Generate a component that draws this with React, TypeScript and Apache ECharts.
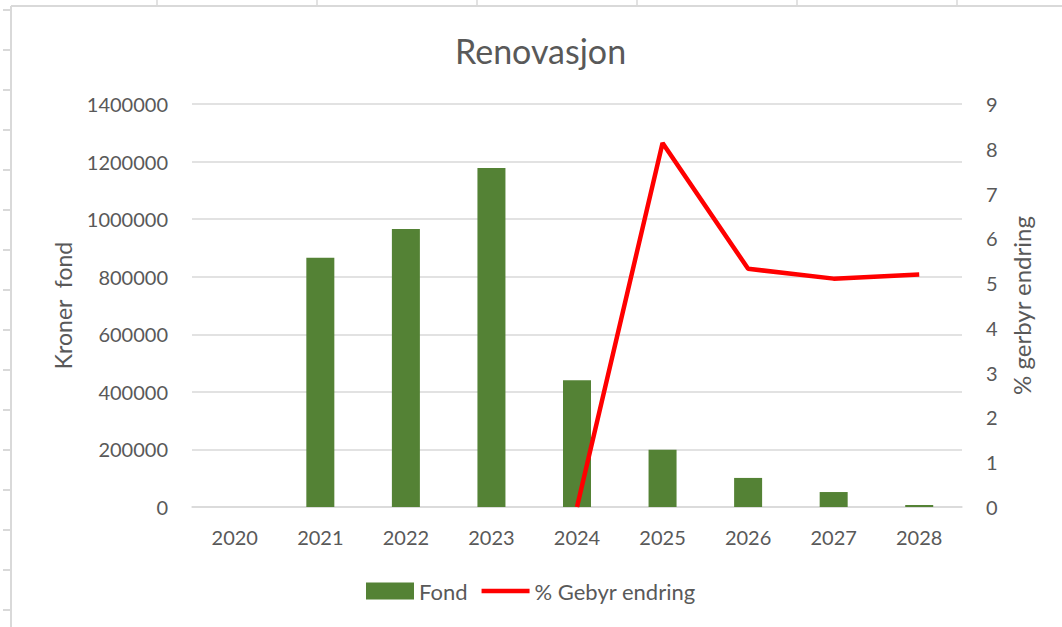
import React, { useEffect, useRef } from "react";
import * as echarts from "echarts";

const years = ["2020", "2021", "2022", "2023", "2024", "2025", "2026", "2027", "2028"];
const fond = [0, 866000, 966000, 1178000, 440000, 199000, 101000, 52000, 7000];
const gebyr = [null, null, null, null, 0, 8.13, 5.32, 5.1, 5.19];

const FONT = "Lato";
const GREY = "#595959";
const GRID = "#d9d9d9";

export default function App() {
  const ref = useRef<HTMLDivElement>(null);
  useEffect(() => {
    document.body.style.margin = "0";
    const chart = echarts.init(ref.current!, undefined, { renderer: "svg" });
    const graphics: any[] = [];
    graphics.push({ type: "line", shape: { x1: 11, y1: 6, x2: 11, y2: 627 }, style: { stroke: GRID, lineWidth: 2 }, silent: true });
    graphics.push({ type: "line", shape: { x1: 11, y1: 6, x2: 1062, y2: 6 }, style: { stroke: GRID, lineWidth: 2 }, silent: true });
    for (let y = 10; y < 627; y += 40) {
      graphics.push({ type: "line", shape: { x1: 3, y1: y, x2: 11, y2: y }, style: { stroke: GRID, lineWidth: 2 }, silent: true });
    }
    for (let x = 157; x < 1062; x += 160) {
      graphics.push({ type: "line", shape: { x1: x, y1: 0, x2: x, y2: 6 }, style: { stroke: GRID, lineWidth: 1.5 }, silent: true });
    }
    chart.setOption({
      animation: false,
      backgroundColor: "#ffffff",
      textStyle: { fontFamily: FONT },
      title: {
        text: "Renovasjon",
        left: 450,
        top: 28,
        textStyle: { fontFamily: FONT, fontSize: 34, fontWeight: "normal", color: GREY },
      },
      grid: { left: 192, right: 100, top: 104, bottom: 120, containLabel: false },
      legend: {
        bottom: 20,
        left: 361,
        itemWidth: 48,
        itemHeight: 17,
        itemGap: 14,
        textStyle: { fontFamily: FONT, fontSize: 22, color: GREY },
        data: [
          { name: "Fond", icon: "rect" },
          { name: "% Gebyr endring", icon: "path://M0,0L53,0L53,5L0,5Z" },
        ],
      },
      xAxis: {
        type: "category",
        data: years,
        axisTick: { show: false },
        axisLine: { show: true, lineStyle: { color: GRID, width: 1.5 } },
        axisLabel: { color: GREY, fontSize: 20, fontFamily: FONT, margin: 20 },
      },
      yAxis: [
        {
          type: "value",
          min: 0,
          max: 1400000,
          interval: 200000,
          name: "Kroner  fond",
          nameLocation: "middle",
          nameGap: 118,
          nameRotate: 90,
          nameTextStyle: { color: GREY, fontSize: 23, fontFamily: FONT },
          axisLabel: { color: GREY, fontSize: 20, fontFamily: FONT, margin: 24, formatter: (v: number) => String(v) },
          axisLine: { show: false },
          axisTick: { show: false },
          splitLine: { lineStyle: { color: GRID, width: 1.5 } },
        },
        {
          type: "value",
          min: 0,
          max: 9,
          interval: 1,
          name: "% gerbyr endring",
          nameLocation: "middle",
          nameGap: 47,
          nameRotate: 90,
          nameTextStyle: { color: GREY, fontSize: 24, fontFamily: FONT },
          axisLabel: { color: GREY, fontSize: 20, fontFamily: FONT, margin: 24 },
          axisLine: { show: false },
          axisTick: { show: false },
          splitLine: { show: false },
        },
      ],
      series: [
        {
          name: "Fond",
          type: "bar",
          data: fond,
          barWidth: 28,
          itemStyle: { color: "#548235" },
          yAxisIndex: 0,
        },
        {
          name: "% Gebyr endring",
          type: "line",
          data: gebyr,
          yAxisIndex: 1,
          symbol: "none",
          showSymbol: false,
          connectNulls: false,
          lineStyle: { color: "#ff0000", width: 4.5 },
          itemStyle: { color: "#ff0000" },
          z: 5,
        },
      ],
      graphic: graphics,
    });
    return () => chart.dispose();
  }, []);
  return <div ref={ref} style={{ width: 1062, height: 627 }} />;
}
